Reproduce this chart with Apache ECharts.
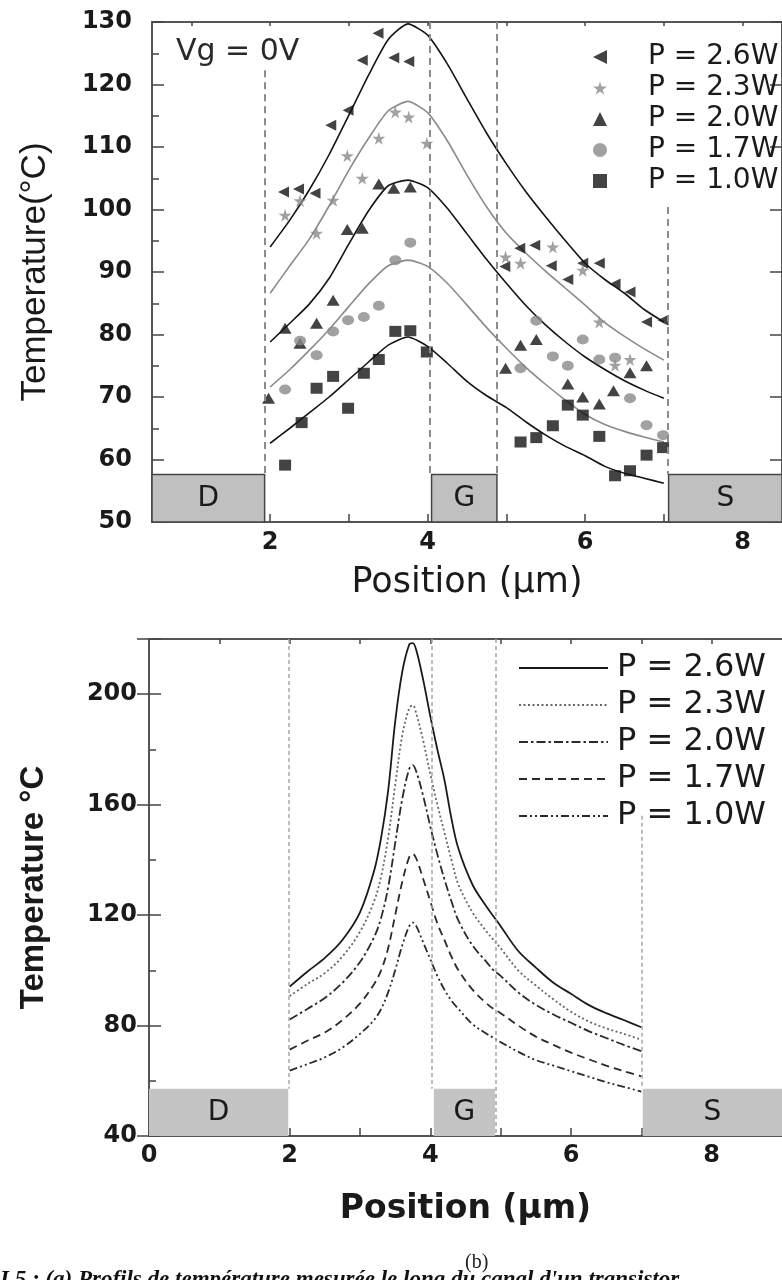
<!DOCTYPE html>
<html><head><meta charset="utf-8">
<script src="https://cdn.jsdelivr.net/npm/echarts@6/dist/echarts.min.js"></script>
<style>html,body{margin:0;padding:0;background:#fff;}#c{width:782px;height:1280px;}</style>
</head><body><div id="c"></div>
<script>
// ---------- (a) measured + fitted profiles ----------
const fitX  = [2.0,2.25,2.5,2.75,3.0,3.25,3.5,3.75,4.0,4.25,4.5,4.75,5.0,5.25,5.5,5.75,6.0,6.25,6.5,6.75,7.0];
const fit26 = [94.0,98.3,103.2,108.8,115.1,121.5,127.2,129.7,127.9,123.3,117.7,112.2,107.3,102.8,98.8,95.0,91.4,88.8,86.6,84.0,82.0];
const fit23 = [86.6,91.0,95.3,100.6,106.3,111.4,115.8,117.3,115.5,111.0,105.5,100.4,96.2,93.0,90.1,87.4,84.7,81.9,79.7,77.7,75.9];
const fit20 = [78.8,81.8,84.9,89.0,94.5,99.8,103.8,104.7,103.5,100.2,96.1,92.0,88.2,84.6,81.5,78.8,76.4,74.4,72.6,71.1,69.8];
const fit17 = [71.6,74.4,77.5,80.8,84.5,88.1,91.0,91.9,90.9,88.2,84.7,81.1,77.8,74.7,72.0,69.5,67.2,65.6,64.5,63.6,62.8];
const fit10 = [62.6,65.0,67.5,70.0,72.8,75.6,78.3,79.6,78.1,75.4,72.5,70.2,68.3,66.0,63.9,62.1,60.6,58.9,57.8,57.0,56.2];

const meas26 = [[2.17,102.8],[2.36,103.3],[2.57,102.6],[2.77,113.5],[2.99,115.9],[3.17,123.9],[3.37,128.2],[3.57,124.3],[3.76,123.7],[4.98,90.9],[5.17,93.8],[5.36,94.3],[5.57,91.0],[5.78,88.8],[5.97,91.4],[6.18,91.4],[6.38,88.1],[6.57,86.8],[6.78,82.0],[6.99,82.3]];
const meas23 = [[2.19,99.1],[2.38,101.4],[2.59,96.2],[2.80,101.5],[2.98,108.6],[3.17,105.0],[3.38,111.4],[3.59,115.6],[3.76,114.8],[3.99,110.6],[4.99,92.4],[5.18,91.4],[5.59,94.0],[5.97,90.3],[6.18,82.0],[6.38,75.1],[6.57,76.0]];
const meas20 = [[1.98,69.8],[2.19,81.0],[2.38,78.6],[2.59,81.8],[2.80,85.5],[2.98,96.8],[3.17,97.0],[3.38,104.1],[3.57,103.4],[3.78,103.6],[4.99,74.6],[5.18,78.3],[5.38,79.2],[5.78,72.1],[5.97,70.0],[6.18,68.9],[6.36,71.0],[6.57,73.9],[6.78,75.0]];
const meas17 = [[2.19,71.2],[2.38,79.0],[2.59,76.7],[2.80,80.5],[2.99,82.3],[3.19,82.8],[3.38,84.6],[3.59,91.9],[3.78,94.7],[5.18,74.6],[5.38,82.2],[5.59,76.5],[5.78,75.0],[5.97,79.2],[6.18,76.0],[6.38,76.3],[6.57,69.8],[6.78,65.5],[6.99,63.9]];
const meas10 = [[2.19,59.1],[2.40,65.9],[2.59,71.4],[2.80,73.3],[2.99,68.2],[3.19,73.8],[3.38,76.0],[3.59,80.5],[3.78,80.6],[3.99,77.2],[5.18,62.8],[5.38,63.5],[5.59,65.4],[5.78,68.7],[5.97,67.1],[6.18,63.7],[6.38,57.4],[6.57,58.2],[6.78,60.7],[6.99,61.9]];

// ---------- (b) simulated profiles ----------
const simX  = [2.0,2.25,2.5,2.75,3.0,3.2,3.3,3.4,3.5,3.6,3.7,3.75,3.8,3.9,4.0,4.1,4.2,4.3,4.4,4.6,4.8,4.9,5.0,5.25,5.5,5.75,6.0,6.25,6.5,6.75,7.0];
const sim26 = [94.1,99.5,104.5,111,121,136,148,165,190,208,218,218.5,216,205,192,180,169,155,144,131,123,119.5,116,107,101,95.5,91.5,87.5,84.5,82,79.4];
const sim23 = [90.7,95,99,105,114,125,134,148,167,185,195,196,193,183,171,160,150,140,131,121,114,111,108,100,94.5,89.5,85,81.5,79,77,74.9];
const sim20 = [82.2,86,90,95.5,103,112,119,130,146,162,173,174.3,172,163,152,142,133,125,118,109,103,100,98,92,87.5,84,81,78,75.5,73,70.7];
const sim17 = [71.3,74.5,77.5,82,88,95,100,108,120,132,141,142.2,140.5,133,125,117,111,105,100,93,88,86,84.5,80,76,73,70.2,67.8,65.5,63.5,61.6];
const sim10 = [63.7,66,68.5,72,77,82,86,92,100,109,116,117.3,116,110,104,98,93,89,86,80.5,77,75.5,74,70.5,67.5,65.5,63.5,61.5,59.5,57.8,56.1];

const powerLabels = ['P = 2.6W','P = 2.3W','P = 2.0W','P = 1.7W','P = 1.0W'];
const topXTicks = [1,2,3,4,5,6,7,8];
const topXLabels = [2,4,6,8];
const botXTicks = [1,2,3,4,5,6,7,8];
const botXLabels = [0,2,4,6,8];

const pair = (xs, ys) => xs.map((x, i) => [x, ys[i]]);
const STAR = 'path://M50,0 L61,35 L98,35 L68,57 L79,91 L50,70 L21,91 L32,57 L2,35 L39,35 Z';
const LTRI = 'path://M0,50 L100,0 L100,100 Z';
const BLK = '#141414', GRY = '#8a8a8a';

const tickFont = {fontFamily:'DejaVu Sans', fontWeight:'bold', fontSize:24, color:'#1a1a1a'};
const frameLine = {show:true, lineStyle:{color:'#555', width:2}};

function fitSeries(name, ys, color){
  return {name, type:'line', xAxisIndex:0, yAxisIndex:0, data:pair(fitX, ys),
    symbol:'none', smooth:0.2, lineStyle:{color, width:1.6}, z:3};
}
function measSeries(name, pts, symbol, color, size){
  return {name, type:'scatter', xAxisIndex:0, yAxisIndex:0, data:pts,
    symbol, symbolSize:size, itemStyle:{color}, z:4};
}
function simSeries(name, ys, type, color){
  return {name, type:'line', xAxisIndex:2, yAxisIndex:2, data:pair(simX, ys),
    symbol:'none', smooth:0.35, lineStyle:{color, width:1.8, type}, itemStyle:{color}, z:3};
}

const chart = echarts.init(document.getElementById('c'), null, {renderer:'canvas'});
chart.setOption({
  animation:false,
  backgroundColor:'#fff',
  grid:[
    {left:152, top:22, width:639, height:500},
    {left:149, top:639, width:641, height:497}
  ],
  xAxis:[
    {gridIndex:0, type:'value', min:0.5, max:8.5, position:'bottom',
     axisLine:frameLine, splitLine:{show:false},
     axisTick:{inside:true, length:8, customValues:topXTicks, lineStyle:{color:'#444', width:1.5}},
     axisLabel:Object.assign({customValues:topXLabels, margin:9}, tickFont),
     name:'Position (µm)', nameLocation:'middle', nameGap:43,
     nameTextStyle:{fontFamily:'DejaVu Sans', fontSize:35, color:'#1a1a1a'}},
    {gridIndex:0, type:'value', min:0.5, max:8.5, position:'top',
     axisLine:frameLine, splitLine:{show:false},
     axisTick:{inside:true, length:4, customValues:topXTicks, lineStyle:{color:'#444', width:1.5}},
     axisLabel:{show:false}},
    {gridIndex:1, type:'value', min:0, max:9, position:'bottom',
     axisLine:frameLine, splitLine:{show:false},
     axisTick:{inside:true, length:8, customValues:botXTicks, lineStyle:{color:'#444', width:1.5}},
     axisLabel:Object.assign({customValues:botXLabels, margin:8}, tickFont),
     name:'Position (µm)', nameLocation:'middle', nameGap:57,
     nameTextStyle:{fontFamily:'DejaVu Sans', fontWeight:'bold', fontSize:33, color:'#1a1a1a'}},
    {gridIndex:1, type:'value', min:0, max:9, position:'top',
     axisLine:frameLine, splitLine:{show:false},
     axisTick:{inside:true, length:5, customValues:botXTicks, lineStyle:{color:'#444', width:1.5}},
     axisLabel:{show:false}}
  ],
  yAxis:[
    {gridIndex:0, type:'value', min:50, max:130, interval:10, position:'left',
     axisLine:frameLine, splitLine:{show:false},
     axisTick:{inside:true, length:12, lineStyle:{color:'#444', width:1.5}},
     minorTick:{show:true, splitNumber:2, length:7, lineStyle:{color:'#444', width:1.5}},
     axisLabel:Object.assign({margin:20}, tickFont),
     name:'Temperature(°C)', nameLocation:'middle', nameGap:99, nameRotate:90,
     nameTextStyle:{fontFamily:'Liberation Sans', fontSize:35, color:'#1a1a1a'}},
    {gridIndex:0, type:'value', min:50, max:130, interval:10, position:'right',
     axisLine:frameLine, splitLine:{show:false},
     axisTick:{inside:true, length:12, lineStyle:{color:'#444', width:1.5}},
     axisLabel:{show:false}},
    {gridIndex:1, type:'value', min:40, max:220, interval:40, position:'left',
     axisLine:frameLine, splitLine:{show:false},
     axisTick:{inside:true, length:12, lineStyle:{color:'#444', width:1.5}},
     minorTick:{show:true, splitNumber:2, length:7, lineStyle:{color:'#444', width:1.5}},
     axisLabel:Object.assign({margin:12, showMaxLabel:false}, tickFont),
     name:'Temperature °C', nameLocation:'middle', nameGap:99, nameRotate:90,
     nameTextStyle:{fontFamily:'Liberation Sans', fontWeight:'bold', fontSize:33, color:'#1a1a1a'}},
    {gridIndex:1, type:'value', min:40, max:220, interval:40, position:'right',
     axisLine:frameLine, splitLine:{show:false},
     axisTick:{inside:true, length:12, lineStyle:{color:'#444', width:1.5}},
     axisLabel:{show:false}}
  ],
  legend:[
    {data:['m26','m23','m20','m17','m10'], orient:'vertical', left:588, top:37,
     itemWidth:14, itemHeight:14, itemGap:1, selectedMode:false,
     formatter:(n)=>({m26:powerLabels[0],m23:powerLabels[1],m20:powerLabels[2],m17:powerLabels[3],m10:powerLabels[4]})[n],
     textStyle:{fontFamily:'DejaVu Sans', fontSize:28, lineHeight:30, color:'#1a1a1a', padding:[0,0,0,36]}},
    {data:['s26','s23','s20','s17','s10'], orient:'vertical', left:513, top:646,
     itemWidth:89, itemHeight:14, itemGap:3, selectedMode:false,
     itemStyle:{color:'rgba(0,0,0,0)', borderWidth:0, opacity:0},
     formatter:(n)=>({s26:powerLabels[0],s23:powerLabels[1],s20:powerLabels[2],s17:powerLabels[3],s10:powerLabels[4]})[n],
     textStyle:{fontFamily:'DejaVu Sans', fontSize:32, lineHeight:34, color:'#1a1a1a', padding:[0,0,0,4]}}
  ],
  graphic:[
    {type:'text', left:176, top:37, style:{text:'Vg = 0V', fontFamily:'DejaVu Sans', fontSize:30, fill:'#2a2a2a'}},
    {type:'text', left:465, top:1253, style:{text:'(b)', fontFamily:'Liberation Serif', fontSize:20, fill:'#222'}},
    {type:'text', left:0, top:1269, style:{text:'I.5 : (a) Profils de température mesurée le long du canal d\'un transistor', fontFamily:'Liberation Serif', fontStyle:'italic', fontWeight:'bold', fontSize:23, fill:'#111'}}
  ],
  series:[
    {name:'regionsA', type:'line', xAxisIndex:0, yAxisIndex:0, data:[], z:2,
     markArea:{silent:true,
       itemStyle:{color:'#c0c0c0', borderColor:'#444', borderWidth:1.5},
       label:{show:true, position:'inside', fontFamily:'DejaVu Sans', fontSize:28, color:'#1a1a1a'},
       data:[
         [{name:'D', coord:[0.5,50]},{coord:[1.93,57.6]}],
         [{name:'G', coord:[4.05,50]},{coord:[4.88,57.6]}],
         [{name:'S', coord:[7.06,50]},{coord:[8.5,57.6]}]
       ]},
     markLine:{silent:true, symbol:['none','none'], label:{show:false},
       lineStyle:{color:'#8c8c8c', width:2, type:[7,5]},
       data:[
         [{coord:[1.93,122.3]},{coord:[1.93,57.6]}],
         [{coord:[4.03,130]},{coord:[4.03,57.6]}],
         [{coord:[4.88,130]},{coord:[4.88,57.6]}],
         [{coord:[7.05,100.4]},{coord:[7.05,57.6]}]
       ]}},
    fitSeries('f26', fit26, BLK),
    fitSeries('f23', fit23, GRY),
    fitSeries('f20', fit20, BLK),
    fitSeries('f17', fit17, GRY),
    fitSeries('f10', fit10, BLK),
    measSeries('m26', meas26, LTRI, BLK, [11,11]),
    measSeries('m23', meas23, STAR, GRY, [13,13]),
    measSeries('m20', meas20, 'triangle', BLK, [13,11]),
    measSeries('m17', meas17, 'circle', GRY, [12,10]),
    measSeries('m10', meas10, 'rect', BLK, [12,11]),
    {name:'regionsB', type:'line', xAxisIndex:2, yAxisIndex:2, data:[], z:2,
     markArea:{silent:true,
       itemStyle:{color:'#c4c4c4', borderWidth:0},
       label:{show:true, position:'inside', fontFamily:'DejaVu Sans', fontSize:28, color:'#1a1a1a'},
       data:[
         [{name:'D', coord:[0,40]},{coord:[1.98,57.1]}],
         [{name:'G', coord:[4.05,40]},{coord:[4.92,57.1]}],
         [{name:'S', coord:[7.02,40]},{coord:[9,57.1]}]
       ]},
     markLine:{silent:true, symbol:['none','none'], label:{show:false},
       lineStyle:{color:'#a6a6a6', width:1.5, type:[4,3]},
       data:[
         [{coord:[1.98,220]},{coord:[1.98,57.1]}],
         [{coord:[4.02,220]},{coord:[4.02,57.1]}],
         [{coord:[4.93,220]},{coord:[4.93,40]}],
         [{coord:[7.01,156]},{coord:[7.01,57.1]}]
       ]}},
    simSeries('s26', sim26, 'solid', '#1a1a1a'),
    simSeries('s23', sim23, [2,2.5], '#666'),
    simSeries('s20', sim20, [9,3,2.5,3], '#2a2a2a'),
    simSeries('s17', sim17, [8,5], '#2a2a2a'),
    simSeries('s10', sim10, [8,3,2,3,2,3], '#2a2a2a')
  ]
});
</script></body></html>
